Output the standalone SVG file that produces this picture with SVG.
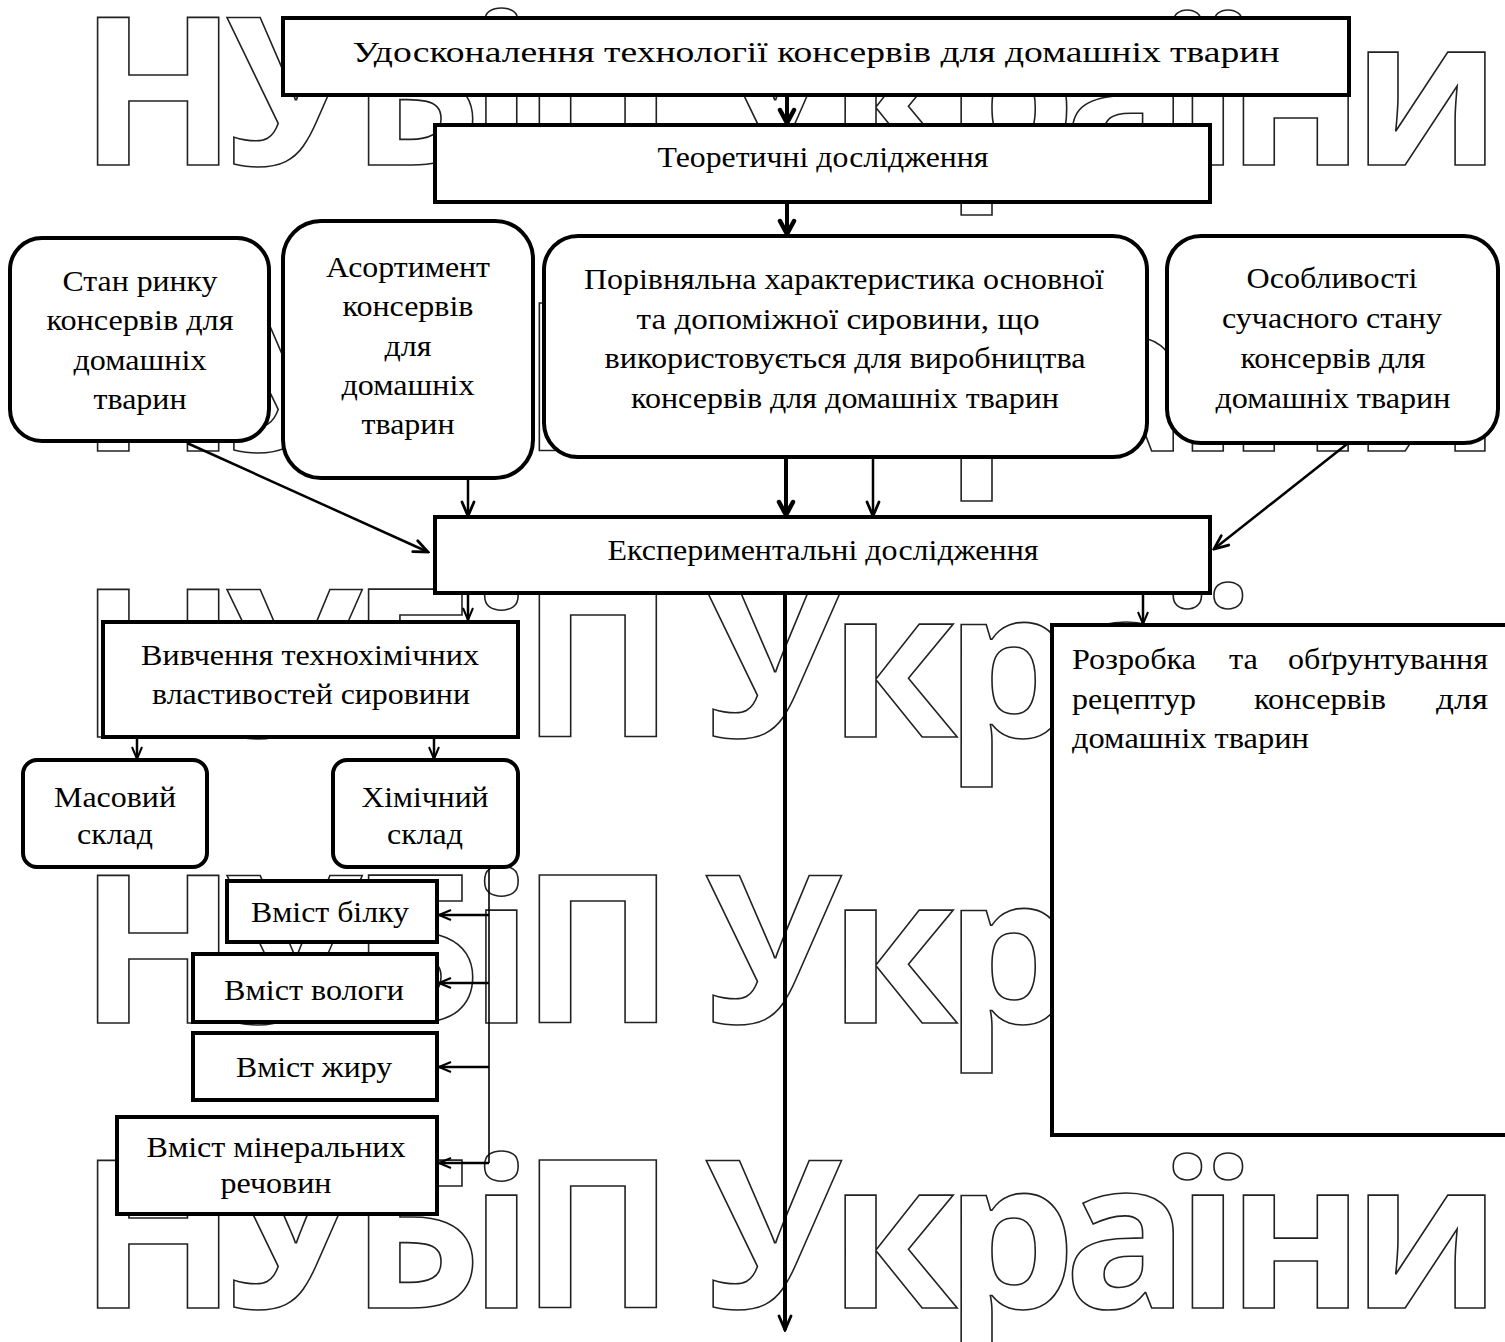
<svg xmlns="http://www.w3.org/2000/svg" width="1505" height="1342" viewBox="0 0 1505 1342">
<style>
.bg{fill:#fff}
.wm{font-family:"Open Sans",sans-serif;font-weight:700;font-size:207px;letter-spacing:-12.3px;fill:#fff;stroke:#222;stroke-width:1.6}
.box{fill:#fff;stroke:#000;stroke-width:4}
.t{font-family:"Liberation Serif","Times New Roman",serif;font-size:30px;fill:#000;text-anchor:middle}
.tl{font-family:"Liberation Serif","Times New Roman",serif;font-size:30px;fill:#000}
.ln{fill:none;stroke:#000}
.k{stroke-width:4}
.m{stroke-width:2.5}
.s{stroke-width:1.6}
</style>
<defs>
<marker id="a" viewBox="0 0 20 20" refX="17" refY="10" markerWidth="20" markerHeight="20" orient="auto" markerUnits="userSpaceOnUse"><path d="M3,3 L16,10 L3,17" fill="none" stroke="#000" stroke-width="4.5" stroke-linecap="round" stroke-linejoin="round"/></marker>
<marker id="c" viewBox="0 0 18 16" refX="16" refY="8" markerWidth="18" markerHeight="16" orient="auto" markerUnits="userSpaceOnUse"><path d="M2,2 L16,8 L2,14" fill="none" stroke="#000" stroke-width="2.8" stroke-linecap="round"/></marker>
<marker id="b" viewBox="0 0 14 12" refX="13" refY="6" markerWidth="14" markerHeight="12" orient="auto" markerUnits="userSpaceOnUse"><path d="M1,1 L13,6 L1,11" fill="none" stroke="#000" stroke-width="2"/></marker>
</defs>
<rect class="bg" x="0" y="0" width="1505" height="1342"/>
<g id="watermark">
<text class="wm" x="79" y="165">НУБіП України</text>
<text class="wm" x="79" y="451">НУБіП України</text>
<text class="wm" x="79" y="737">НУБіП України</text>
<text class="wm" x="79" y="1023">НУБіП України</text>
<text class="wm" x="79" y="1308">НУБіП України</text>
</g>
<g id="connectors">
<path class="ln k" d="M787,95 V124" marker-end="url(#a)"/>
<path class="ln k" d="M787,202 V235" marker-end="url(#a)"/>
<path class="ln m" d="M187,443 L428,552" marker-end="url(#c)"/>
<path class="ln m" d="M468,478 V516" marker-end="url(#c)"/>
<path class="ln k" d="M786,457 V516" marker-end="url(#a)"/>
<path class="ln m" d="M873,457 V516" marker-end="url(#c)"/>
<path class="ln m" d="M1347,444 L1214,549" marker-end="url(#c)"/>
<path class="ln m" d="M468,593 V620" marker-end="url(#b)"/>
<path class="ln k" d="M785,593 V1330" marker-end="url(#c)"/>
<path class="ln m" d="M1143,593 V624" marker-end="url(#b)"/>
<path class="ln m" d="M137,738 V759" marker-end="url(#b)"/>
<path class="ln m" d="M434,738 V759" marker-end="url(#b)"/>
<path class="ln s" d="M489,867 V1163"/>
<path class="ln m" d="M489,915 H439" marker-end="url(#b)"/>
<path class="ln m" d="M489,983 H439" marker-end="url(#b)"/>
<path class="ln m" d="M489,1067 H439" marker-end="url(#b)"/>
<path class="ln m" d="M489,1163 H439" marker-end="url(#b)"/>
</g>
<g id="n-title">
<rect class="box" x="283" y="18" width="1066" height="77"/>
<text class="t" x="816" y="62" textLength="927" lengthAdjust="spacingAndGlyphs">Удосконалення технології консервів для домашніх тварин</text>
</g>
<g id="n-theory">
<rect class="box" x="435" y="125" width="775" height="77"/>
<text class="t" x="823" y="167" textLength="331" lengthAdjust="spacingAndGlyphs">Теоретичні дослідження</text>
</g>
<g id="n-market">
<rect class="box" x="10" y="238" width="259" height="203" rx="32"/>
<text class="t" x="140" y="291" textLength="155" lengthAdjust="spacingAndGlyphs">Стан ринку</text>
<text class="t" x="140" y="330" textLength="187" lengthAdjust="spacingAndGlyphs">консервів для</text>
<text class="t" x="140" y="370" textLength="133" lengthAdjust="spacingAndGlyphs">домашніх</text>
<text class="t" x="140" y="409" textLength="93" lengthAdjust="spacingAndGlyphs">тварин</text>
</g>
<g id="n-assort">
<rect class="box" x="283" y="221" width="250" height="257" rx="38"/>
<text class="t" x="408" y="277" textLength="164" lengthAdjust="spacingAndGlyphs">Асортимент</text>
<text class="t" x="408" y="316" textLength="131" lengthAdjust="spacingAndGlyphs">консервів</text>
<text class="t" x="408" y="356" textLength="47" lengthAdjust="spacingAndGlyphs">для</text>
<text class="t" x="408" y="395" textLength="133" lengthAdjust="spacingAndGlyphs">домашніх</text>
<text class="t" x="408" y="434" textLength="93" lengthAdjust="spacingAndGlyphs">тварин</text>
</g>
<g id="n-compare">
<rect class="box" x="544" y="236" width="603" height="221" rx="34"/>
<text class="t" x="844" y="289" textLength="520" lengthAdjust="spacingAndGlyphs">Порівняльна характеристика основної</text>
<text class="t" x="838" y="329" textLength="403" lengthAdjust="spacingAndGlyphs">та допоміжної сировини, що</text>
<text class="t" x="845" y="368" textLength="481" lengthAdjust="spacingAndGlyphs">використовується для виробництва</text>
<text class="t" x="845" y="408" textLength="428" lengthAdjust="spacingAndGlyphs">консервів для домашніх тварин</text>
</g>
<g id="n-features">
<rect class="box" x="1167" y="236" width="331" height="207" rx="34"/>
<text class="t" x="1332" y="288" textLength="171" lengthAdjust="spacingAndGlyphs">Особливості</text>
<text class="t" x="1332" y="328" textLength="220" lengthAdjust="spacingAndGlyphs">сучасного стану</text>
<text class="t" x="1333" y="368" textLength="185" lengthAdjust="spacingAndGlyphs">консервів для</text>
<text class="t" x="1333" y="408" textLength="235" lengthAdjust="spacingAndGlyphs">домашніх тварин</text>
</g>
<g id="n-exp">
<rect class="box" x="435" y="517" width="775" height="76"/>
<text class="t" x="823" y="560" textLength="431" lengthAdjust="spacingAndGlyphs">Експериментальні дослідження</text>
</g>
<g id="n-study">
<rect class="box" x="103" y="622" width="415" height="115"/>
<text class="t" x="310" y="665" textLength="338" lengthAdjust="spacingAndGlyphs">Вивчення технохімічних</text>
<text class="t" x="311" y="704" textLength="318" lengthAdjust="spacingAndGlyphs">властивостей сировини</text>
</g>
<g id="n-mass">
<rect class="box" x="23" y="760" width="184" height="107" rx="14"/>
<text class="t" x="115" y="807" textLength="122" lengthAdjust="spacingAndGlyphs">Масовий</text>
<text class="t" x="115" y="844" textLength="76" lengthAdjust="spacingAndGlyphs">склад</text>
</g>
<g id="n-chem">
<rect class="box" x="333" y="760" width="185" height="107" rx="14"/>
<text class="t" x="425" y="807" textLength="127" lengthAdjust="spacingAndGlyphs">Хімічний</text>
<text class="t" x="425" y="844" textLength="76" lengthAdjust="spacingAndGlyphs">склад</text>
</g>
<g id="n-protein">
<rect class="box" x="227" y="881" width="210" height="61"/>
<text class="t" x="330" y="922" textLength="158" lengthAdjust="spacingAndGlyphs">Вміст білку</text>
</g>
<g id="n-moist">
<rect class="box" x="193" y="954" width="244" height="68"/>
<text class="t" x="314" y="1000" textLength="180" lengthAdjust="spacingAndGlyphs">Вміст вологи</text>
</g>
<g id="n-fat">
<rect class="box" x="193" y="1033" width="244" height="67"/>
<text class="t" x="314" y="1077" textLength="156" lengthAdjust="spacingAndGlyphs">Вміст жиру</text>
</g>
<g id="n-mineral">
<rect class="box" x="117" y="1117" width="320" height="97"/>
<text class="t" x="276" y="1157" textLength="259" lengthAdjust="spacingAndGlyphs">Вміст мінеральних</text>
<text class="t" x="276" y="1193" textLength="111" lengthAdjust="spacingAndGlyphs">речовин</text>
</g>
<g id="n-recipe">
<rect class="box" x="1052" y="625" width="480" height="510"/>
<text class="tl" y="669"><tspan x="1072" textLength="124" lengthAdjust="spacingAndGlyphs">Розробка</tspan><tspan x="1229" textLength="29" lengthAdjust="spacingAndGlyphs">та</tspan><tspan x="1288" textLength="200" lengthAdjust="spacingAndGlyphs">обґрунтування</tspan></text>
<text class="tl" y="709"><tspan x="1072" textLength="124" lengthAdjust="spacingAndGlyphs">рецептур</tspan><tspan x="1254" textLength="132" lengthAdjust="spacingAndGlyphs">консервів</tspan><tspan x="1436" textLength="52" lengthAdjust="spacingAndGlyphs">для</tspan></text>
<text class="tl" x="1072" y="748" textLength="237" lengthAdjust="spacingAndGlyphs">домашніх тварин</text>
</g>
</svg>
